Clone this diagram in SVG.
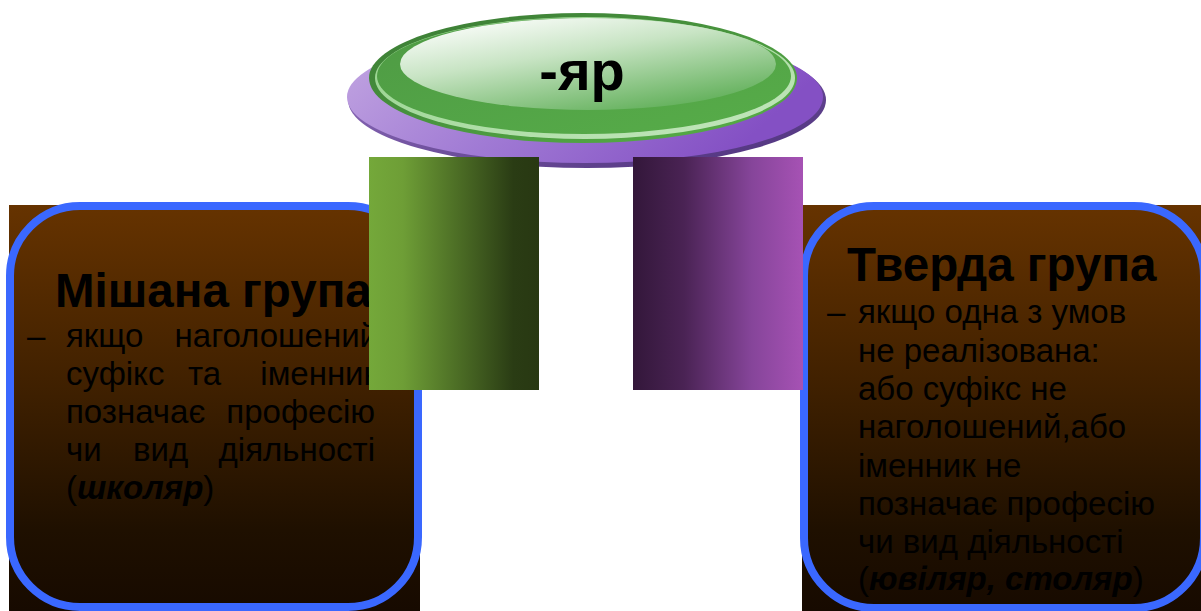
<svg xmlns="http://www.w3.org/2000/svg" width="1201" height="611" viewBox="0 0 1201 611">
<defs>
<linearGradient id="brown" x1="0" y1="0" x2="0" y2="1">
<stop offset="0" stop-color="#663300"/>
<stop offset="0.45" stop-color="#3f2000"/>
<stop offset="0.8" stop-color="#1f1000"/>
<stop offset="1" stop-color="#170a00"/>
</linearGradient>
<linearGradient id="greenbar" x1="0" y1="0" x2="1" y2="0">
<stop offset="0" stop-color="#74a83a"/>
<stop offset="0.2" stop-color="#6e9e36"/>
<stop offset="0.85" stop-color="#2a3c14"/>
<stop offset="1" stop-color="#283812"/>
</linearGradient>
<linearGradient id="purplebar" x1="0" y1="0" x2="1" y2="0">
<stop offset="0" stop-color="#33173a"/>
<stop offset="0.3" stop-color="#4a2354"/>
<stop offset="0.7" stop-color="#86459a"/>
<stop offset="1" stop-color="#a652b4"/>
</linearGradient>
<linearGradient id="purpleEl" x1="0" y1="0" x2="1" y2="0.3">
<stop offset="0" stop-color="#c4a8e2"/>
<stop offset="0.5" stop-color="#a07ad4"/>
<stop offset="1" stop-color="#8450c4"/>
</linearGradient>
<linearGradient id="purpleRim" x1="0" y1="0" x2="1" y2="1">
<stop offset="0" stop-color="#9a78c8"/>
<stop offset="1" stop-color="#4a2e78"/>
</linearGradient>
<linearGradient id="greenOuter" x1="0" y1="0" x2="1" y2="1">
<stop offset="0" stop-color="#3a7a34"/>
<stop offset="1" stop-color="#58b048"/>
</linearGradient>
<linearGradient id="greenRing" x1="0" y1="0" x2="1" y2="1">
<stop offset="0" stop-color="#4e9a44"/>
<stop offset="1" stop-color="#57ad49"/>
</linearGradient>
<linearGradient id="greenLight" x1="0" y1="0" x2="1" y2="1">
<stop offset="0" stop-color="#8ecf84"/>
<stop offset="1" stop-color="#c6e8c0"/>
</linearGradient>
<linearGradient id="greenInner" x1="0.15" y1="0" x2="0.8" y2="1">
<stop offset="0" stop-color="#ffffff"/>
<stop offset="0.4" stop-color="#c8e4c4"/>
<stop offset="1" stop-color="#5aac52"/>
</linearGradient>
</defs>
<style>
.t{font-family:"Liberation Sans",Arial,sans-serif;fill:#000}
.title{font-size:47.5px;font-weight:bold}
.body{font-size:33px}
.bi{font-weight:bold;font-style:italic}
.frame{fill:none;stroke:#3a68ff;stroke-width:8}
</style>

<g id="left-box">
<rect x="9" y="205" width="411" height="406" fill="url(#brown)"/>
<rect class="frame" x="10" y="206" width="408" height="401" rx="70"/>
<text class="t title" x="55" y="307">Мішана група</text>
<text class="t body" x="27" y="347">–</text>
<text class="t body" x="66" y="347">якщо</text>
<text class="t body" x="378" y="347" text-anchor="end">наголошений</text>
<text class="t body" x="66" y="385">суфікс</text>
<text class="t body" x="188" y="385">та</text>
<text class="t body" x="378" y="385" text-anchor="end">іменник</text>
<text class="t body" x="66" y="423">позначає</text>
<text class="t body" x="375" y="423" text-anchor="end">професію</text>
<text class="t body" x="66" y="461">чи</text>
<text class="t body" x="133" y="461">вид</text>
<text class="t body" x="375" y="461" text-anchor="end">діяльності</text>
<text class="t body" x="66" y="499">(<tspan class="bi">школяр</tspan>)</text>
</g>

<g id="right-box">
<rect x="802" y="205" width="399" height="406" fill="url(#brown)"/>
<rect class="frame" x="804" y="206" width="400" height="402" rx="70"/>
<text class="t title" x="847" y="281">Тверда група</text>
<text class="t body" x="827" y="323">–</text>
<text class="t body" x="858" y="323">якщо одна з умов</text>
<text class="t body" x="858" y="362">не реалізована:</text>
<text class="t body" x="858" y="400">або суфікс не</text>
<text class="t body" x="858" y="438">наголошений,або</text>
<text class="t body" x="858" y="477">іменник не</text>
<text class="t body" x="858" y="515">позначає професію</text>
<text class="t body" x="858" y="553">чи вид діяльності</text>
<text class="t body" x="858" y="590">(<tspan class="bi">ювіляр, столяр</tspan>)</text>
</g>

<g id="center-ellipse">
<ellipse cx="587" cy="100" rx="239" ry="68" fill="url(#purpleRim)"/>
<ellipse cx="585" cy="97" rx="238" ry="66" fill="url(#purpleEl)"/>
<ellipse cx="583" cy="78" rx="214" ry="65" fill="url(#greenOuter)"/>
<ellipse cx="585" cy="78" rx="210" ry="61" fill="url(#greenLight)"/>
<ellipse cx="584" cy="76" rx="207" ry="58" fill="url(#greenRing)"/>
<ellipse cx="588" cy="64" rx="188" ry="46" fill="url(#greenInner)"/>
<text class="t" x="582" y="90" text-anchor="middle" font-size="56" font-weight="bold">-яр</text>
</g>

<g id="connectors">
<rect x="369" y="157" width="170" height="233" fill="url(#greenbar)"/>
<rect x="633" y="157" width="170" height="233" fill="url(#purplebar)"/>
</g>
</svg>
